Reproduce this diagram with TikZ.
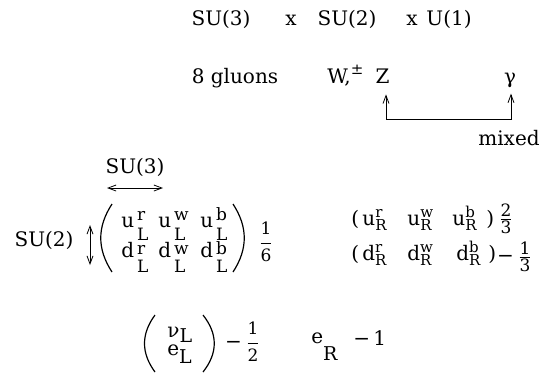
\documentclass[tikz,border=0pt]{standalone}
\usepackage{amsmath, amssymb}
\usepackage{fontspec}
\setmainfont{DejaVu Serif}
\usetikzlibrary{arrows.meta}

\newcommand{\sm}{\fontsize{7.5}{9}\selectfont}
\newcommand{\md}{\fontsize{8.5}{10}\selectfont}
\newcommand{\bgsz}{\fontsize{9.5}{11}\selectfont}
% camp: lletra, super-index, sub-index, pujada, baixada
\newcommand{\lfld}[5]{#1\rlap{\raisebox{#4}{\md\,#2}}\raisebox{-#5}{\md\,#3}}
\newcommand{\rfld}[3]{#1\rlap{\raisebox{4pt}{\sm #2}}\raisebox{-2.5pt}{\sm #3}}
\newcommand{\dn}[2]{\raisebox{-#2}{\bgsz #1}}
% fraccions: petita i gran
\newcommand{\fr}[2]{$\frac{\text{\md #1}}{\text{\md #2}}$}
\newcommand{\dfr}[2]{$\dfrac{\text{\md #1}}{\text{\md #2}}$}

\begin{document}
\begin{tikzpicture}[x=0.5pt, y=-0.5pt,
    >={Straight Barb[length=4pt,width=3pt]},
    txt/.style={inner sep=0pt, anchor=base, font=\fontsize{10}{12}\selectfont},
    paren/.style={line width=0.6pt}]
    \useasboundingbox (0,0) rectangle (544,372);
    % Grup gauge
    \node[txt] (g3) at (221,25) {SU(3)};
    \node[txt] (x1) at (291,25) {x};
    \node[txt] (g2) at (347,25) {SU(2)};
    \node[txt] (x2) at (412,25) {x};
    \node[txt] (g1) at (449,25) {U(1)};
    % Bosons de gauge
    \node[txt] (gluons) at (235,83) {8 gluons};
    \node[txt, anchor=base west] (W) at (327,83) {W,\raisebox{4.5pt}{\sm ±}};
    \node[txt] (Z) at (382.5,83) {Z};
    \node[txt] (gam) at (510,83) {γ};
    \coordinate (bar) at (450,119);
    \draw[<->, shorten <=5.5pt, shorten >=3pt]
        ([xshift=1.75pt]Z.south) |- (bar) -| ([xshift=0.5pt]gam.south);
    \node[txt] (mixed) at (509,145) {mixed};
    % Quarks esquerrans
    \node[txt] (su3m) at (135,173) {SU(3)};
    \coordinate (c3a) at (107,188);
    \coordinate (c3b) at (163,188);
    \draw[<->] (c3a) -- (c3b);
    \node[txt] (su2m) at (44,246) {SU(2)};
    \coordinate (c2a) at (90,225);
    \coordinate (c2b) at (90,265);
    \draw[<->] (c2a) -- (c2b);
    \draw[paren] (112,204) .. controls (97,227) and (97,249) .. (112,272);
    \draw[paren] (233,204) .. controls (248,227) and (248,249) .. (233,272);
    \foreach \c/\x in {r/121, w/158, b/200} {
        \node[txt, anchor=base west] (u\c L) at (\x,227) {\lfld{u}{\c}{L}{3.5pt}{6.5pt}};
        \node[txt, anchor=base west] (d\c L) at (\x,257) {\lfld{d}{\c}{L}{1.5pt}{7.5pt}};
    }
    \node[txt, anchor=center] (y6) at (266,242) {\dfr{1}{6}};
    % Quarks dretans
    \node[txt, anchor=base west] (pu) at (351,225) {(};
    \node[txt, anchor=base west] (pd) at (351,260) {(};
    \foreach \c/\x/\xd in {r/362/362, w/407/407, b/452/456} {
        \node[txt, anchor=base west] (u\c R) at (\x,225) {\rfld{u}{\c}{R}};
        \node[txt, anchor=base west] (d\c R) at (\xd,260) {\rfld{d}{\c}{R}};
    }
    \node[txt, anchor=base west] (qu) at (486,225) {)};
    \node[txt, anchor=base west] (qd) at (488,260) {)};
    \node[txt, anchor=center] (y23) at (506,219) {\fr{2}{3}};
    \node[txt, anchor=center] (ym13) at (515,257) {−\,\fr{1}{3}};
    % Leptons
    \draw[paren] (155,315) .. controls (141,334) and (141,353) .. (155,372);
    \draw[paren] (203,315) .. controls (218,334) and (218,353) .. (203,372);
    \node[txt, anchor=base west] (nuL) at (167,337) {ν\dn{L}{2.5pt}};
    \node[txt, anchor=base west] (eL) at (167,355) {e\dn{L}{4pt}};
    \node[txt, anchor=center] (y12) at (243,342) {−\,\dfr{1}{2}};
    \node[txt, anchor=base west] (eR) at (311,343) {e\dn{R}{8.5pt}};
    \node[txt, anchor=base west] (y1) at (353,345) {−\,1};
\end{tikzpicture}
\end{document}
